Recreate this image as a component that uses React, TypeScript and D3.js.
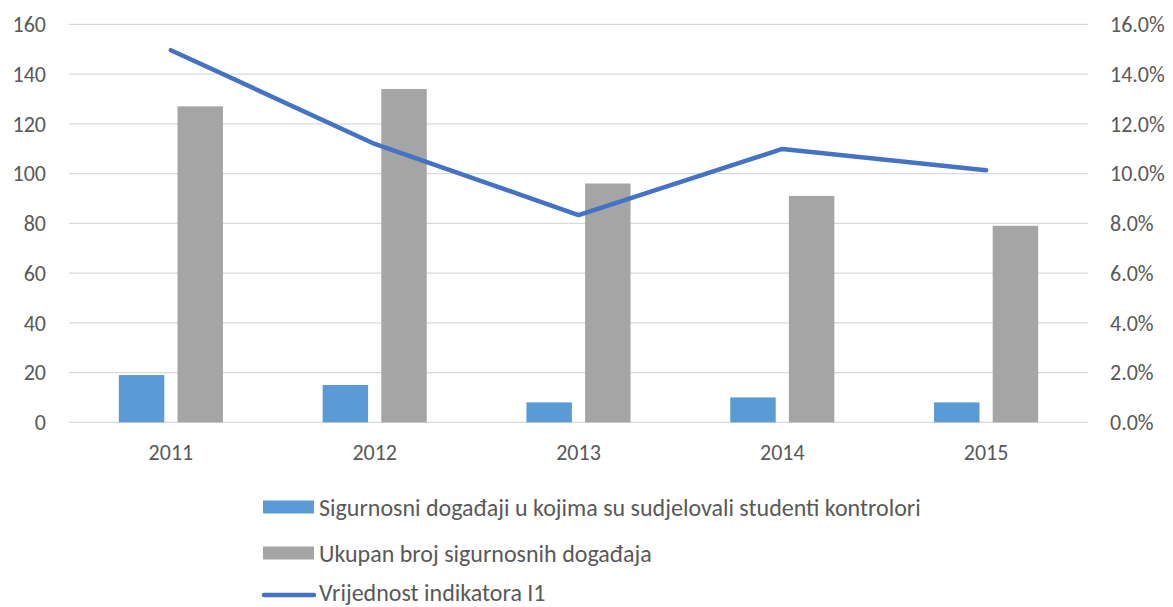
import React, { useEffect, useRef } from 'react';
import * as d3 from 'd3';

const years = ['2011', '2012', '2013', '2014', '2015'];
const studentEvents = [19, 15, 8, 10, 8];
const totalEvents = [127, 134, 96, 91, 79];
const indicator = [0.1496, 0.1119, 0.0833, 0.1099, 0.1013];
const leftTicks = [0, 20, 40, 60, 80, 100, 120, 140, 160];
const rightTicks = [0, 0.02, 0.04, 0.06, 0.08, 0.1, 0.12, 0.14, 0.16];
const seriesNames = [
  'Sigurnosni događaji u kojima su sudjelovali studenti kontrolori',
  'Ukupan broj sigurnosnih događaja',
  'Vrijednost indikatora I1',
];

const FONT = 'Carlito, Lato, "Open Sans", sans-serif';

function App() {
  const svgRef = useRef<SVGSVGElement>(null);

  useEffect(() => {
    const svg = d3.select(svgRef.current);
    svg.selectAll('*').remove();

    const left = 69, right = 1088, top = 24.3, bottom = 422.3;

    const x = d3.scaleBand().domain(years).range([left, right]).paddingInner(0).paddingOuter(0);
    const inner = d3.scaleBand().domain(['a', 'b']).range([0, x.bandwidth()]).paddingInner(0.225).paddingOuter(0.85);
    const y = d3.scaleLinear().domain([0, 160]).range([bottom, top]);
    const y2 = d3.scaleLinear().domain([0, 0.16]).range([bottom, top]);

    // gridlines
    svg.append('g')
      .selectAll('line')
      .data(leftTicks)
      .enter().append('line')
      .attr('x1', left).attr('x2', right)
      .attr('y1', d => y(d)).attr('y2', d => y(d))
      .attr('stroke', '#d9d9d9').attr('stroke-width', 1.3);

    // left axis labels
    svg.append('g')
      .selectAll('text')
      .data(leftTicks)
      .enter().append('text')
      .attr('x', 46).attr('y', d => y(d))
      .attr('dy', '0.36em')
      .attr('text-anchor', 'end')
      .attr('font-family', FONT).attr('font-size', 22).attr('fill', '#595959')
      .text(d => d);

    // right axis labels
    svg.append('g')
      .selectAll('text')
      .data(rightTicks)
      .enter().append('text')
      .attr('x', 1110).attr('y', d => y2(d))
      .attr('dy', '0.36em')
      .attr('font-family', FONT).attr('font-size', 22).attr('fill', '#595959')
      .text(d => d3.format('.1%')(d));

    // year labels
    svg.append('g')
      .selectAll('text')
      .data(years)
      .enter().append('text')
      .attr('x', d => x(d)! + x.bandwidth() / 2).attr('y', 452)
      .attr('dy', '0.36em')
      .attr('text-anchor', 'middle')
      .attr('font-family', FONT).attr('font-size', 22).attr('fill', '#595959')
      .text(d => d);

    // bars
    svg.append('g')
      .selectAll('rect')
      .data(years)
      .enter().append('rect')
      .attr('x', d => x(d)! + inner('a')!)
      .attr('y', (d, i) => y(studentEvents[i]))
      .attr('width', inner.bandwidth())
      .attr('height', (d, i) => y(0) - y(studentEvents[i]))
      .attr('fill', '#5b9bd5');

    svg.append('g')
      .selectAll('rect')
      .data(years)
      .enter().append('rect')
      .attr('x', d => x(d)! + inner('b')!)
      .attr('y', (d, i) => y(totalEvents[i]))
      .attr('width', inner.bandwidth())
      .attr('height', (d, i) => y(0) - y(totalEvents[i]))
      .attr('fill', '#a5a5a5');

    // indicator line
    const line = d3.line<number>()
      .x((d, i) => x(years[i])! + x.bandwidth() / 2)
      .y(d => y2(d));

    svg.append('path')
      .datum(indicator)
      .attr('d', line)
      .attr('fill', 'none')
      .attr('stroke', '#4472c4')
      .attr('stroke-width', 4.5)
      .attr('stroke-linecap', 'round')
      .attr('stroke-linejoin', 'round');

    // legend
    const legendY = [507, 553, 592];
    const lg = svg.append('g');
    lg.append('rect').attr('x', 263).attr('y', 500.5).attr('width', 51).attr('height', 13).attr('fill', '#5b9bd5');
    lg.append('rect').attr('x', 263).attr('y', 546.5).attr('width', 51).attr('height', 13).attr('fill', '#a5a5a5');
    lg.append('line').attr('x1', 264).attr('x2', 314).attr('y1', 595).attr('y2', 595)
      .attr('stroke', '#4472c4').attr('stroke-width', 4.5).attr('stroke-linecap', 'round');
    lg.selectAll('text')
      .data(seriesNames)
      .enter().append('text')
      .attr('x', 319).attr('y', (d, i) => legendY[i])
      .attr('dy', '0.36em')
      .attr('font-family', FONT).attr('font-size', 24).attr('fill', '#595959')
      .text(d => d);
  }, []);

  return (
    <div style={{ position: 'absolute', left: 0, top: 0 }}>
      <svg ref={svgRef} width="1173" height="607" style={{ display: 'block', background: '#fff' }}></svg>
    </div>
  );
}

export default App;
